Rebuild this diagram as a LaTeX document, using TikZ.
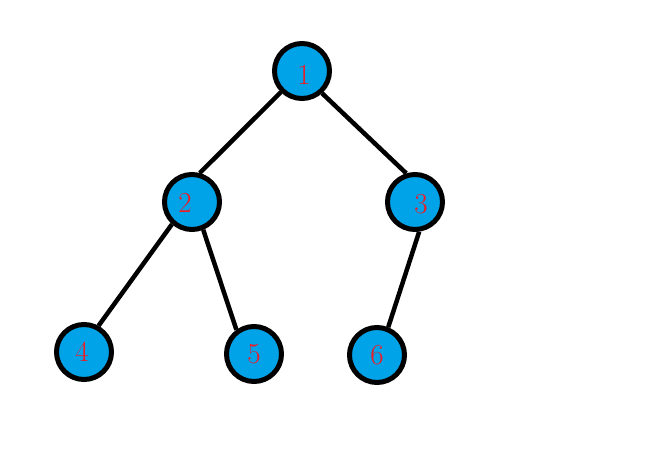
\documentclass[tikz,border=0pt]{standalone}
\definecolor{nodeblue}{RGB}{0,162,232}
\definecolor{numred}{RGB}{237,28,36}
% #1 = twice the horizontal shift, #2 = vertical shift, #3 = text
\newcommand\shiftlbl[3]{\raisebox{#2}[\height][\depth]{\hspace*{#1}#3}}
\begin{document}
\begin{tikzpicture}[x=1pt,y=1pt,
  treenode/.style={circle,draw=black,line width=5pt,fill=nodeblue,minimum size=55pt,inner sep=0pt,
    text=numred,font=\fontsize{29}{29}\selectfont},
  edge/.style={line width=4.5pt,draw=black}]
\useasboundingbox (0,0) rectangle (645,452);
\node[treenode] (n1) at (302,381) {\shiftlbl{4pt}{-4pt}{1}};
\node[treenode] (n2) at (192,250) {\shiftlbl{-14pt}{-1pt}{2}};
\node[treenode] (n3) at (415,250) {\shiftlbl{12pt}{-2pt}{3}};
\node[treenode] (n4) at (84,100) {\shiftlbl{-4pt}{0pt}{4}};
\node[treenode] (n5) at (254,98) {5};
\node[treenode] (n6) at (377,97) {6};
\draw[edge] (n1.225) -- (n2.75);
\draw[edge] (n1.312) -- (n3.107);
\draw[edge] (n2.228) -- (n4.61);
\draw[edge] (n2.292) -- (n5.126);
\draw[edge] (n3.278) -- (n6.68);
\end{tikzpicture}
\end{document}
